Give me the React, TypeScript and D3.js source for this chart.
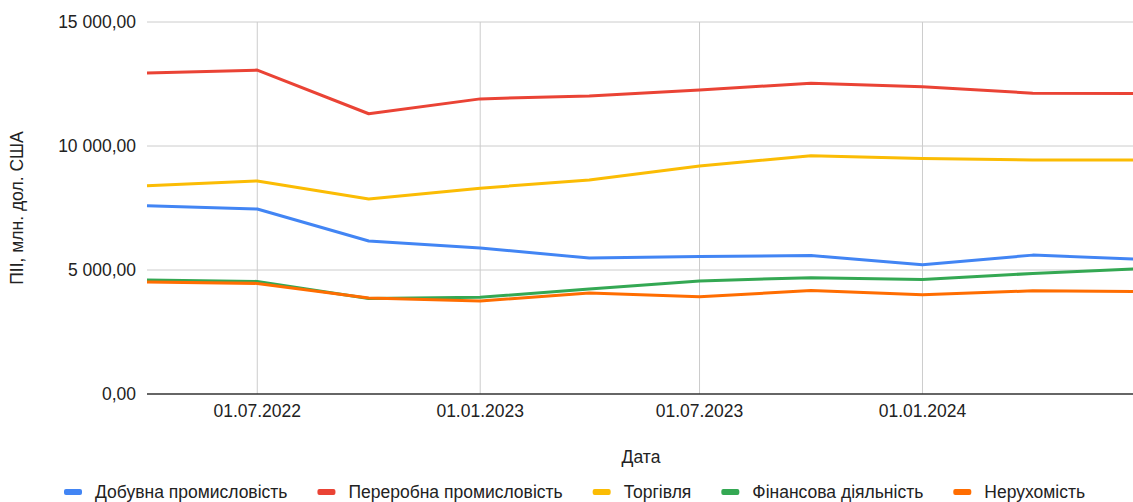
import React, { useEffect, useRef } from 'react';
import * as d3 from 'd3';

const dates = [
  '2022-04-01', '2022-07-01', '2022-10-01', '2023-01-01', '2023-04-01',
  '2023-07-01', '2023-10-01', '2024-01-01', '2024-04-01', '2024-07-01',
];

const mining = [7590, 7460, 6170, 5890, 5480, 5540, 5580, 5210, 5600, 5430];
const manufacturing = [12940, 13060, 11300, 11900, 12020, 12260, 12530, 12390, 12130, 12120];
const trade = [8400, 8590, 7860, 8300, 8630, 9190, 9610, 9500, 9440, 9440];
const finance = [4600, 4540, 3850, 3900, 4230, 4560, 4690, 4620, 4860, 5060];
const realEstate = [4520, 4460, 3870, 3750, 4070, 3920, 4170, 4000, 4160, 4130];

const seriesNames = [
  'Добувна промисловість',
  'Переробна промисловість',
  'Торгівля',
  'Фінансова діяльність',
  'Нерухомість',
];
const seriesColors = ['#4285F4', '#EA4335', '#FBBC04', '#34A853', '#FF6D01'];

const yTicks = [0, 5000, 10000, 15000];
const xTicks = ['2022-07-01', '2023-01-01', '2023-07-01', '2024-01-01'];

const yTitle = 'ПІІ, млн. дол. США';
const xTitle = 'Дата';

const W = 1133;
const H = 502;
const FONT = '"Liberation Sans", Arial, sans-serif';

const App = () => {
  const ref = useRef<SVGSVGElement>(null);

  useEffect(() => {
    const svg = d3.select(ref.current);
    svg.html('');

    const parse = d3.timeParse('%Y-%m-%d');
    const xDates = dates.map(d => parse(d) as Date);

    const margin = { top: 22, left: 147, bottom: 108 };
    const x = d3.scaleTime()
      .domain([xDates[0], xDates[xDates.length - 1]])
      .range([margin.left, 1143]);
    const y = d3.scaleLinear()
      .domain([0, 15000])
      .range([H - margin.bottom, margin.top]);

    const locale = d3.formatLocale({ decimal: ',', thousands: ' ', grouping: [3], currency: ['', ''] });
    const fmtY = locale.format(',.2f');
    const fmtX = d3.timeFormat('%d.%m.%Y');

    // grid
    svg.append('g')
      .selectAll('line')
      .data(yTicks.filter(t => t > 0))
      .enter().append('line')
      .attr('x1', x.range()[0])
      .attr('x2', x.range()[1])
      .attr('y1', d => y(d))
      .attr('y2', d => y(d))
      .attr('stroke', '#cccccc')
      .attr('stroke-width', 1);

    svg.append('g')
      .selectAll('line')
      .data(xTicks)
      .enter().append('line')
      .attr('x1', d => x(parse(d) as Date))
      .attr('x2', d => x(parse(d) as Date))
      .attr('y1', y(15000))
      .attr('y2', y(0))
      .attr('stroke', '#cccccc')
      .attr('stroke-width', 1);

    // y tick labels
    svg.append('g')
      .selectAll('text')
      .data(yTicks)
      .enter().append('text')
      .attr('x', 136)
      .attr('y', d => y(d))
      .attr('dy', '0.35em')
      .attr('text-anchor', 'end')
      .attr('font-family', FONT)
      .attr('font-size', 17.5)
      .attr('fill', '#222')
      .text(d => fmtY(d));

    // x tick labels
    svg.append('g')
      .selectAll('text')
      .data(xTicks)
      .enter().append('text')
      .attr('x', d => x(parse(d) as Date))
      .attr('y', y(0) + 17)
      .attr('dy', '0.35em')
      .attr('text-anchor', 'middle')
      .attr('font-family', FONT)
      .attr('font-size', 17.5)
      .attr('fill', '#222')
      .text(d => fmtX(parse(d) as Date));

    // lines
    const allSeries = [mining, manufacturing, trade, finance, realEstate];
    const line = d3.line<number>()
      .x((_, i) => x(xDates[i]))
      .y(d => y(d));

    svg.append('g')
      .selectAll('path')
      .data(allSeries)
      .enter().append('path')
      .attr('d', d => line(d))
      .attr('fill', 'none')
      .attr('stroke', (_, i) => seriesColors[i])
      .attr('stroke-width', 3)
      .attr('stroke-linejoin', 'round');

    // baseline
    svg.append('line')
      .attr('x1', x.range()[0])
      .attr('x2', x.range()[1])
      .attr('y1', y(0))
      .attr('y2', y(0))
      .attr('stroke', '#333')
      .attr('stroke-width', 1.5);

    // axis titles
    svg.append('text')
      .attr('transform', `translate(17,${(y(0) + y(15000)) / 2}) rotate(-90)`)
      .attr('text-anchor', 'middle')
      .attr('dy', '0.35em')
      .attr('font-family', FONT)
      .attr('font-size', 17.5)
      .attr('fill', '#222')
      .text(yTitle);

    svg.append('text')
      .attr('x', 641)
      .attr('y', 457)
      .attr('dy', '0.35em')
      .attr('text-anchor', 'middle')
      .attr('font-family', FONT)
      .attr('font-size', 17.5)
      .attr('fill', '#222')
      .text(xTitle);

    // legend
    const legend = svg.append('g');
    const items = legend.selectAll('g')
      .data(seriesNames)
      .enter().append('g');
    items.append('rect')
      .attr('width', 18)
      .attr('height', 6)
      .attr('rx', 2)
      .attr('y', -3)
      .attr('fill', (_, i) => seriesColors[i]);
    items.append('text')
      .attr('x', 31)
      .attr('dy', '0.35em')
      .attr('font-family', FONT)
      .attr('font-size', 17.5)
      .attr('fill', '#222')
      .text(d => d);

    let offset = 0;
    const widths: number[] = [];
    items.each(function () {
      widths.push((this as SVGGElement).getBBox().width);
    });
    const gap = 30;
    const start = 64;
    items.attr('transform', (_, i) => {
      const t = `translate(${start + offset},492)`;
      offset += widths[i] + gap;
      return t;
    });
  }, []);

  return (
    <svg
      ref={ref}
      width={W}
      height={H}
      style={{ position: 'absolute', left: 0, top: 0, background: '#fff' }}
    />
  );
};

export default App;
